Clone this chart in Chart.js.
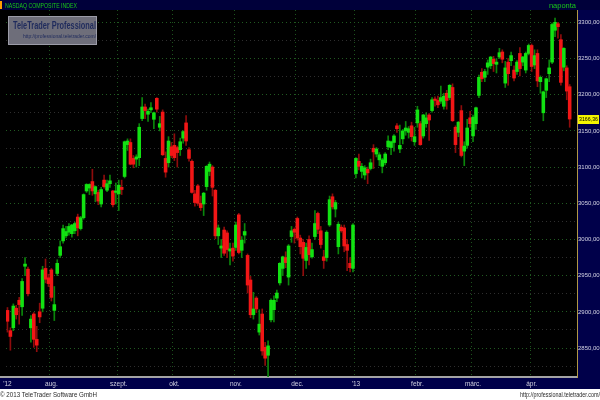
<!DOCTYPE html>
<html>
<head>
<meta charset="utf-8">
<title>NASDAQ COMPOSITE INDEX</title>
<script src="https://cdn.jsdelivr.net/npm/chart.js@4.4.1/dist/chart.umd.min.js"></script>
<style>
  html, body { margin: 0; padding: 0; background: #000; }
</style>
</head>
<body>
<canvas id="myChart" width="600" height="400"></canvas>
<script>
// daily candles, NASDAQ Composite, Jul 2012 - Apr 2013
const dates = [
  '2012-07-11','2012-07-12','2012-07-13','2012-07-16','2012-07-17','2012-07-18','2012-07-19','2012-07-20','2012-07-23','2012-07-24','2012-07-25','2012-07-26','2012-07-27','2012-07-30','2012-07-31',
  '2012-08-01','2012-08-02','2012-08-03','2012-08-06','2012-08-07','2012-08-08','2012-08-09','2012-08-10','2012-08-13','2012-08-14','2012-08-15','2012-08-16','2012-08-17','2012-08-20','2012-08-21','2012-08-22','2012-08-23','2012-08-24','2012-08-27','2012-08-28','2012-08-29','2012-08-30','2012-08-31',
  '2012-09-04','2012-09-05','2012-09-06','2012-09-07','2012-09-10','2012-09-11','2012-09-12','2012-09-13','2012-09-14','2012-09-17','2012-09-18','2012-09-19','2012-09-20','2012-09-21','2012-09-24','2012-09-25','2012-09-26','2012-09-27','2012-09-28',
  '2012-10-01','2012-10-02','2012-10-03','2012-10-04','2012-10-05','2012-10-08','2012-10-09','2012-10-10','2012-10-11','2012-10-12','2012-10-15','2012-10-16','2012-10-17','2012-10-18','2012-10-19','2012-10-22','2012-10-23','2012-10-24','2012-10-25','2012-10-26','2012-10-31',
  '2012-11-01','2012-11-02','2012-11-05','2012-11-06','2012-11-07','2012-11-08','2012-11-09','2012-11-12','2012-11-13','2012-11-14','2012-11-15','2012-11-16','2012-11-19','2012-11-20','2012-11-21','2012-11-23','2012-11-26','2012-11-27','2012-11-28','2012-11-29','2012-11-30',
  '2012-12-03','2012-12-04','2012-12-05','2012-12-06','2012-12-07','2012-12-10','2012-12-11','2012-12-12','2012-12-13','2012-12-14','2012-12-17','2012-12-18','2012-12-19','2012-12-20','2012-12-21','2012-12-24','2012-12-26','2012-12-27','2012-12-28','2012-12-31',
  '2013-01-02','2013-01-03','2013-01-04','2013-01-07','2013-01-08','2013-01-09','2013-01-10','2013-01-11','2013-01-14','2013-01-15','2013-01-16','2013-01-17','2013-01-18','2013-01-22','2013-01-23','2013-01-24','2013-01-25','2013-01-28','2013-01-29','2013-01-30','2013-01-31',
  '2013-02-01','2013-02-04','2013-02-05','2013-02-06','2013-02-07','2013-02-08','2013-02-11','2013-02-12','2013-02-13','2013-02-14','2013-02-15','2013-02-19','2013-02-20','2013-02-21','2013-02-22','2013-02-25','2013-02-26','2013-02-27','2013-02-28',
  '2013-03-01','2013-03-04','2013-03-05','2013-03-06','2013-03-07','2013-03-08','2013-03-11','2013-03-12','2013-03-13','2013-03-14','2013-03-15','2013-03-18','2013-03-19','2013-03-20','2013-03-21','2013-03-22','2013-03-25','2013-03-26','2013-03-27','2013-03-28',
  '2013-04-01','2013-04-02','2013-04-03','2013-04-04','2013-04-05','2013-04-08','2013-04-09','2013-04-10','2013-04-11','2013-04-12','2013-04-15','2013-04-16','2013-04-17','2013-04-18'
];

const opens = [
  2902,2874,2878,2905,2916,2907,2963,2959,2878,2897,2862,2900,2905,2960,2947,
  2958,2902,2953,2978,2998,3005,3010,3008,3012,3031,3015,3030,3067,3071,3080,3063,3065,3049,3082,3068,3077,3067,3065,
  3063,3072,3087,3131,3134,3112,3111,3113,3167,3183,3173,3179,3166,3195,3155,3176,3112,3106,3128,
  3130,3127,3124,3140,3161,3124,3108,3063,3074,3050,3049,3073,3094,3100,3068,3005,2988,3013,3009,2984,2988,
  2989,3034,2985,3006,2978,2944,2896,2919,2872,2897,2851,2840,2889,2903,2919,2940,2960,2975,2948,3004,3014,
  3029,3002,2996,2971,3000,2976,3004,3036,3012,2976,2975,3020,3059,3042,2990,3017,3016,2993,2967,2960,
  3091,3108,3094,3089,3097,3098,3126,3118,3110,3101,3106,3128,3127,3134,3157,3125,3139,3150,3148,3157,3135,
  3161,3160,3143,3160,3172,3178,3194,3192,3191,3184,3202,3196,3210,3155,3148,3178,3122,3130,3168,
  3143,3160,3199,3231,3224,3238,3240,3249,3242,3252,3259,3216,3245,3247,3234,3232,3257,3245,3234,3257,
  3268,3241,3257,3218,3175,3206,3229,3245,3289,3298,3276,3238,3237,3211
];
const highs = [
  2906,2878,2911,2909,2920,2946,2975,2962,2895,2899,2880,2912,2963,2973,2952,
  2960,2935,2972,2998,3020,3018,3022,3021,3024,3035,3032,3063,3077,3077,3097,3074,3068,3072,3089,3082,3089,3068,3078,
  3082,3082,3136,3139,3139,3116,3117,3160,3196,3187,3180,3189,3176,3196,3170,3179,3121,3142,3134,
  3146,3129,3140,3150,3171,3127,3110,3068,3076,3060,3065,3102,3107,3102,3069,3020,3000,3017,3012,2995,2995,
  3024,3036,3004,3022,2980,2949,2927,2921,2903,2904,2858,2860,2918,2922,2930,2968,2977,2983,2993,3018,3016,
  3031,3006,3000,2995,3005,2995,3040,3038,3018,2985,3012,3060,3063,3054,3024,3020,3020,3000,2975,3022,
  3113,3118,3105,3102,3100,3111,3131,3127,3120,3112,3120,3143,3136,3145,3160,3158,3152,3163,3156,3162,3155,
  3184,3163,3173,3175,3174,3196,3197,3198,3212,3202,3206,3214,3215,3157,3163,3185,3135,3166,3177,
  3172,3183,3227,3236,3235,3248,3253,3253,3250,3264,3262,3246,3250,3259,3240,3247,3265,3253,3259,3270,
  3270,3262,3262,3226,3205,3223,3248,3299,3306,3300,3283,3265,3240,3214
];
const lows = [
  2872,2847,2874,2890,2883,2895,2950,2922,2858,2851,2845,2885,2900,2940,2935,
  2915,2888,2950,2975,2995,3002,3006,3003,3008,3005,3013,3028,3065,3062,3061,3052,3048,3045,3071,3066,3072,3045,3049,
  3040,3062,3085,3123,3103,3099,3100,3102,3164,3167,3163,3175,3153,3176,3150,3116,3086,3100,3113,
  3109,3100,3116,3133,3130,3108,3064,3046,3047,3040,3033,3068,3088,3060,3001,2993,2975,2978,2975,2965,2970,
  2985,2980,2975,2995,2926,2892,2890,2899,2868,2840,2826,2810,2886,2886,2914,2937,2950,2961,2937,2996,2995,
  2999,2980,2950,2960,2965,2974,3000,3008,2988,2960,2970,3018,3042,3031,2980,3010,2983,2957,2955,2955,
  3085,3096,3085,3083,3077,3096,3098,3114,3102,3092,3103,3124,3117,3122,3148,3120,3132,3144,3140,3136,3130,
  3155,3130,3140,3155,3137,3176,3184,3182,3188,3180,3180,3193,3163,3120,3142,3114,3102,3126,3155,
  3135,3152,3196,3218,3218,3228,3236,3232,3230,3250,3244,3210,3213,3240,3219,3228,3226,3240,3230,3255,
  3232,3236,3211,3202,3164,3196,3218,3243,3280,3278,3213,3233,3193,3155
];
const closes = [
  2887,2866,2908,2896,2910,2942,2966,2925,2890,2862,2854,2893,2958,2945,2939,
  2920,2910,2967,2990,3015,3011,3018,3020,3022,3016,3030,3062,3076,3076,3067,3073,3053,3069,3073,3077,3081,3048,3067,
  3075,3069,3135,3136,3104,3104,3114,3155,3183,3178,3177,3182,3175,3180,3160,3117,3093,3136,3116,
  3113,3120,3135,3149,3136,3112,3065,3051,3050,3044,3064,3101,3104,3072,3005,3016,2991,2981,2986,2987,2977,
  3020,2982,2999,3011,2937,2896,2904,2904,2883,2846,2836,2853,2916,2916,2926,2967,2976,2968,2991,3012,3010,
  3002,2990,2974,2989,2979,2986,3022,3014,2993,2971,3010,3055,3045,3051,3021,3012,2991,2985,2961,3020,
  3112,3101,3101,3099,3092,3106,3121,3125,3117,3110,3118,3136,3135,3143,3153,3130,3150,3154,3153,3142,3142,
  3179,3131,3172,3168,3165,3193,3192,3186,3196,3198,3192,3213,3164,3131,3162,3116,3129,3154,3160,
  3169,3182,3224,3222,3232,3244,3252,3243,3245,3258,3249,3237,3229,3254,3223,3245,3236,3252,3257,3268,
  3239,3254,3219,3224,3204,3222,3237,3297,3300,3294,3217,3264,3205,3166.36
];

// x axis: month starts and their labels
const tickDates = ['2012-07-11','2012-08-01','2012-09-04','2012-10-01','2012-11-01','2012-12-03','2013-01-02','2013-02-01','2013-03-01','2013-04-01'];
const tickLabels = ["'12",'aug.','szept.','okt.','nov.','dec.',"'13",'febr.','márc.','ápr.'];
// y axis grid values
const yTicks = [2825,2850,2875,2900,2925,2950,2975,3000,3025,3050,3075,3100,3125,3150,3175,3200,3225,3250,3275,3300];

const title = 'NASDAQ COMPOSITE INDEX';
const period = 'naponta';
const brand = 'TeleTrader Professional';
const brandUrl = 'http://professional.teletrader.com/';
const copyright = '\u00a9 2013 TeleTrader Software GmbH';

// two empty slots after the last candle
const labels = dates.concat(['', '']);

const wickColors = closes.map((c, i) => c >= opens[i] ? '#0b860b' : '#8e0c0c');
const bodyColors = closes.map((c, i) => c >= opens[i] ? '#12e212' : '#f21616');

const tickLabelAt = (i) => {
    const k = tickDates.indexOf(labels[i]);
    return k >= 0 ? tickLabels[k] : '';
};

const overlay = {
    id: 'teletrader_overlay',
    beforeDraw: (chart) => {
        const c = chart.ctx;
        c.save();
        c.fillStyle = '#000000';
        c.fillRect(0, 0, 600, 400);
        c.fillStyle = '#00003a';
        c.fillRect(0, 0, 600, 10);
        c.fillStyle = '#00004a';
        c.fillRect(577, 10, 23, 379);
        c.fillRect(0, 378, 577, 11);
        c.fillStyle = '#a4a4a4';
        c.fillRect(0, 376, 7, 2);
        c.fillStyle = '#ffffff';
        c.fillRect(0, 389, 600, 11);
        c.restore();
    },
    afterDraw: (chart) => {
        const c = chart.ctx;
        const y = chart.scales.y;
        c.save();
        // header
        c.fillStyle = '#ff9c00';
        c.fillRect(0, 1, 2, 8);
        c.font = '7.5px "Liberation Sans"';
        c.textBaseline = 'middle';
        c.fillStyle = '#18c818';
        c.textAlign = 'left';
        c.fillText(title, 5, 5.5, 72);
        c.textAlign = 'right';
        c.fillText(period, 576, 5.5);
        // logo box
        c.fillStyle = '#6e6e7a';
        c.fillRect(8, 16, 89, 29);
        c.strokeStyle = '#9c9ca8';
        c.lineWidth = 1;
        c.strokeRect(8.5, 16.5, 88, 28);
        c.fillStyle = '#1e2a5c';
        c.textAlign = 'left';
        c.font = 'bold 11px "Liberation Sans"';
        c.fillText(brand, 13, 26, 83);
        c.font = '6px "Liberation Sans"';
        c.fillText(brandUrl, 23, 36, 73);
        // last price tag
        const last = closes[closes.length - 1];
        const py = Math.round(y.getPixelForValue(last));
        c.fillStyle = '#f4f400';
        c.fillRect(578, py - 4, 21, 9);
        c.fillStyle = '#000000';
        c.font = '6px "Liberation Sans"';
        c.fillText(last.toFixed(2).replace('.', ','), 579, py + 0.5, 19);
        // footer
        c.fillStyle = '#2a2a2a';
        c.font = '7px "Liberation Sans"';
        c.textAlign = 'left';
        c.fillText(copyright, 0, 395, 97);
        c.textAlign = 'right';
        c.fillText(brandUrl, 600, 395, 80);
        c.restore();
    }
};

Chart.defaults.font.family = '"Liberation Sans", Arial, sans-serif';

const ctx = document.getElementById('myChart').getContext('2d');
const myChart = new Chart(ctx, {
    type: 'bar',
    plugins: [overlay],
    data: {
        labels: labels,
        datasets: [{
            label: 'wick',
            data: lows.map((l, i) => [l, highs[i]]),
            backgroundColor: wickColors,
            barThickness: 1,
            grouped: false,
            order: 2
        }, {
            label: 'body',
            data: opens.map((o, i) => [o, closes[i]]),
            backgroundColor: bodyColors,
            barPercentage: 1,
            categoryPercentage: 1,
            grouped: false,
            order: 1
        }]
    },
    options: {
        responsive: false,
        animation: false,
        layout: { padding: { top: 10, left: 6, right: 0, bottom: 11 } },
        plugins: {
            legend: { display: false },
            tooltip: { enabled: false }
        },
        scales: {
            x: {
                afterFit: (axis) => { axis.height = 12; },
                grid: {
                    color: (c) => (c.index > 0 && tickLabelAt(c.index) !== '') ? '#1d531d' : 'rgba(0,0,0,0)',
                    drawTicks: false
                },
                border: { color: '#a4a4a4', width: 2, dash: [1, 3] },
                ticks: {
                    autoSkip: false,
                    maxRotation: 0,
                    padding: 3,
                    color: '#d0d0e0',
                    font: { size: 6.5 },
                    callback: (v, i) => tickLabelAt(i)
                }
            },
            y: {
                position: 'right',
                min: 2810,
                max: 3317,
                afterBuildTicks: (axis) => { axis.ticks = yTicks.map(v => ({ value: v })); },
                afterFit: (axis) => { axis.width = 23; },
                grid: {
                    color: (c) => (c.tick && c.tick.value % 50 === 0) ? '#215a21' : '#2e2e2e',
                    drawTicks: false
                },
                border: { color: '#b09848', width: 1, dash: [1, 3] },
                ticks: {
                    padding: 1,
                    color: '#d4d4e4',
                    font: { size: 6 },
                    callback: (v) => v % 50 === 0 ? v.toFixed(2).replace('.', ',') : ''
                }
            }
        }
    }
});
</script>
</body>
</html>
